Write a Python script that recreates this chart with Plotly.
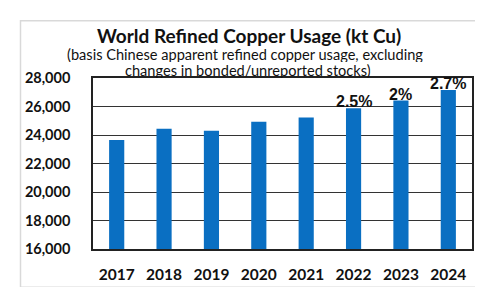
import plotly.graph_objects as go

years = ["2017", "2018", "2019", "2020", "2021", "2022", "2023", "2024"]
usage = [23650, 24430, 24300, 24930, 25230, 25870, 26420, 27150]
growth_labels = ["", "", "", "", "", "2.5%", "2%", "2.7%"]
y_ticks = [16000, 18000, 20000, 22000, 24000, 26000, 28000]
y_tick_text = ["16,000", "18,000", "20,000", "22,000", "24,000", "26,000", "28,000"]

W, H = 483, 287
ML, MR, MT, MB = 85, 19, 70, 29
PH = H - MT - MB
PW = W - ML - MR

def py(pix):
    return (H - MB - pix) / PH

def px(pix):
    return (pix - ML) / PW

fig = go.Figure()
fig.add_trace(go.Bar(x=years, y=usage, marker_color="#0A6FC2", marker_line_width=0,
                     hoverinfo="skip"))

for i, (v, lab) in enumerate(zip(usage, growth_labels)):
    if lab:
        fig.add_annotation(x=i, y=v, text="<b>%s</b>" % lab, showarrow=False,
                           yanchor="bottom", yshift=-4,
                           font=dict(family="Liberation Sans, Arial", size=16, color="#111"))

fig.add_annotation(xref="paper", yref="paper", x=px(241), y=py(23.5), text="<b>World Refined Copper Usage (kt Cu)</b>",
                   showarrow=False, yanchor="middle", xanchor="center",
                   font=dict(family="Lato", size=19, color="#111"))
fig.add_annotation(xref="paper", yref="paper", x=px(237), y=py(43.5), height=16,
                   text="(basis Chinese apparent refined copper usage, excluding",
                   showarrow=False, yanchor="middle", xanchor="center",
                   font=dict(family="Lato", size=14.6, color="#111"))
fig.add_annotation(xref="paper", yref="paper", x=px(240), y=py(61), height=16,
                   text="changes in bonded/unreported stocks)",
                   showarrow=False, yanchor="middle", xanchor="center",
                   font=dict(family="Lato", size=14.6, color="#111"))

# outer light border
fig.add_shape(type="rect", xref="paper", yref="paper", x0=px(12.5), x1=px(470.5), y0=py(300), y1=py(7),
              line=dict(color="#D9D9D9", width=1.5), layer="below")

fig.update_layout(
    width=W, height=H,
    margin=dict(l=ML, r=MR, t=MT, b=MB),
    paper_bgcolor="white", plot_bgcolor="white",
    showlegend=False,
    bargap=0.68,
    xaxis=dict(type="category", categoryorder="array", categoryarray=years,
               range=[-0.5, 7.5],
               showline=True, linecolor="#222", linewidth=1.5, mirror=True,
               showgrid=False, ticks="outside", ticklen=11, tickcolor="rgba(0,0,0,0)",
               tickfont=dict(family="Lato", size=15.5, color="#111", weight="bold")),
    yaxis=dict(range=[16000, 28000], tickvals=y_ticks, ticktext=y_tick_text,
               showline=True, linecolor="#222", linewidth=1.5, mirror=True,
               showgrid=True, gridcolor="#333", gridwidth=1, zeroline=False,
               ticks="outside", ticklen=18, tickcolor="rgba(0,0,0,0)",
               tickfont=dict(family="Lato", size=14.5, color="#111", weight="bold")),
)

fig.write_html("out.html")
